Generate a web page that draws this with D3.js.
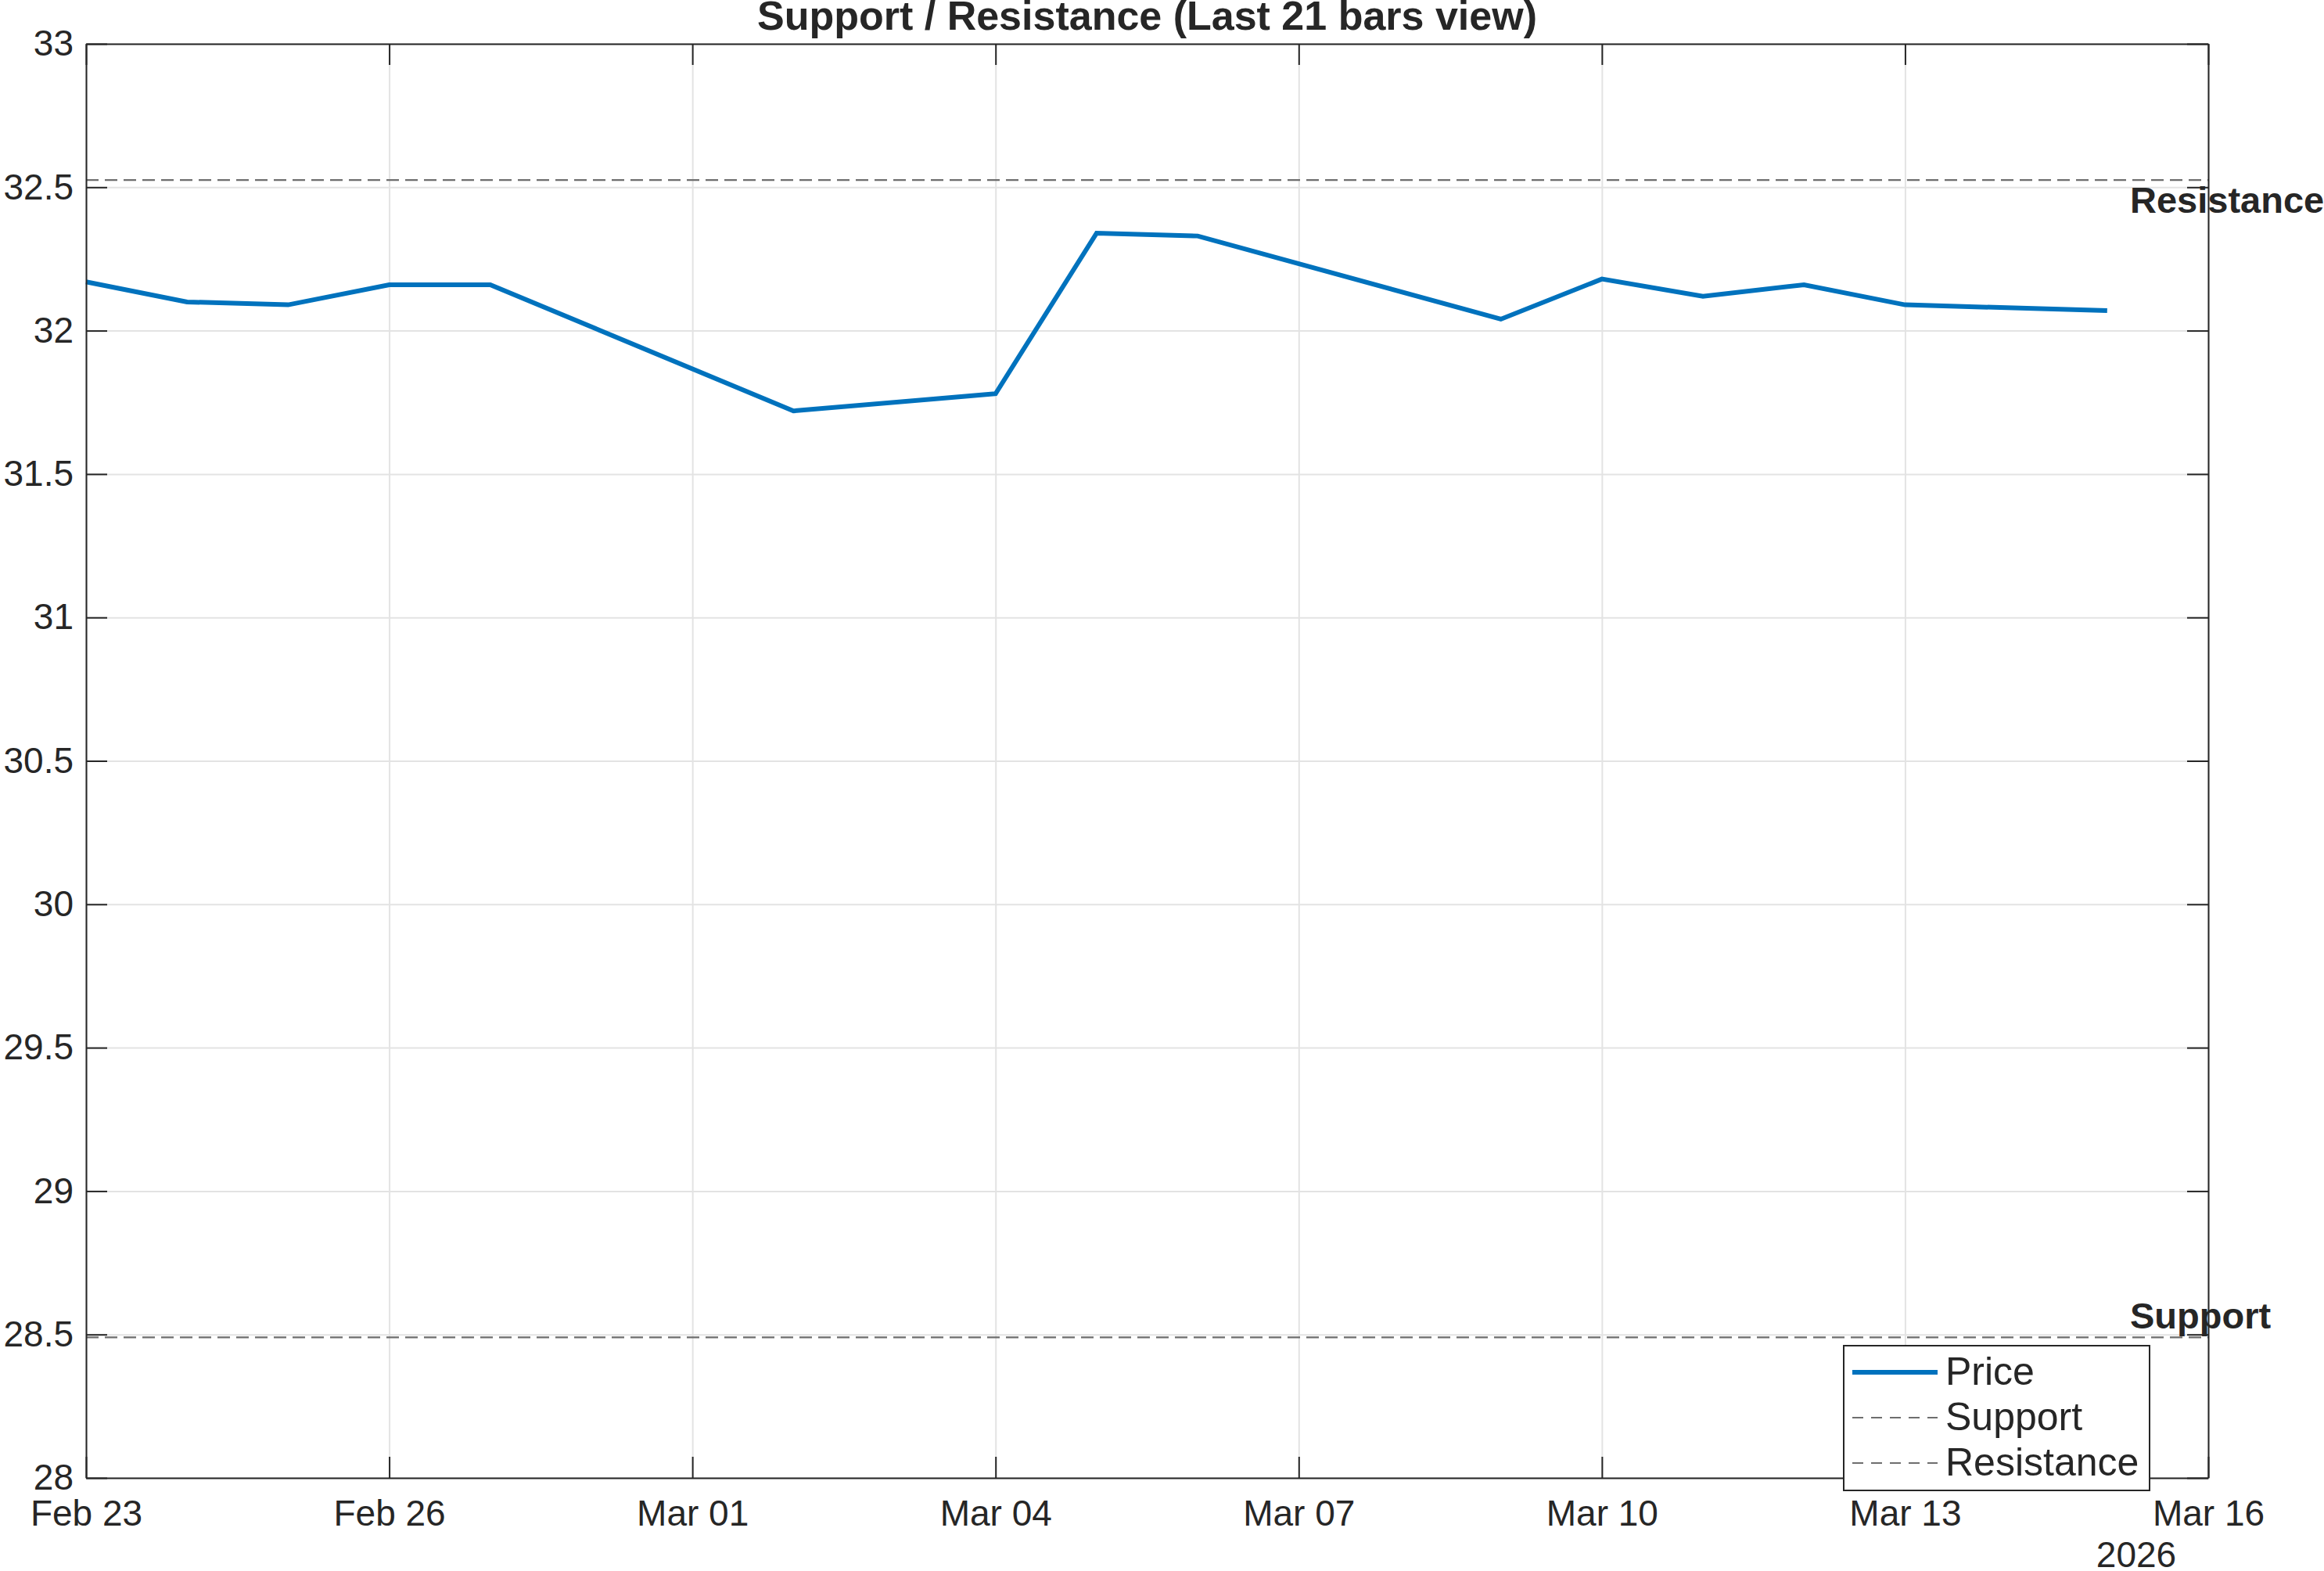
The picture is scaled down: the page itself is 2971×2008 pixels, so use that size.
<!DOCTYPE html>
<html>
<head>
<meta charset="utf-8">
<script src="https://cdn.jsdelivr.net/npm/d3@7"></script>
<style>
  html, body { margin: 0; padding: 0; background: #fff; }
  svg { display: block; }
</style>
</head>
<body>
<svg id="chart"></svg>
<script>
const dates = ['2026-02-23', '2026-02-24', '2026-02-25', '2026-02-26', '2026-02-27',
  '2026-03-02', '2026-03-04', '2026-03-05', '2026-03-06', '2026-03-09',
  '2026-03-10', '2026-03-11', '2026-03-12', '2026-03-13', '2026-03-15'];
const prices = [32.17, 32.10, 32.09, 32.16, 32.16,
  31.72, 31.78, 32.34, 32.33, 32.04,
  32.18, 32.12, 32.16, 32.09, 32.07];
const supportLevel = 28.49;
const resistanceLevel = 32.525;
const xTicks = ['2026-02-23', '2026-02-26', '2026-03-01', '2026-03-04', '2026-03-07',
  '2026-03-10', '2026-03-13', '2026-03-16'];
const yTicks = [28, 28.5, 29, 29.5, 30, 30.5, 31, 31.5, 32, 32.5, 33];
const legendLabels = ['Price', 'Support', 'Resistance'];
const titleText = 'Support / Resistance (Last 21 bars view)';
const yearLabel = '2026';

const W = 2971;
const H = 2008;
const margin = { top: 56, right: 148, bottom: 119, left: 110 };
const innerW = W - margin.left - margin.right;
const innerH = H - margin.top - margin.bottom;
const FONT = '"Liberation Sans", Arial, Helvetica, sans-serif';
const INK = '#262626';
const BLUE = '#0072BD';
const DASH = '#6e6e6e';
const TICK = 27;

const parse = d3.utcParse('%Y-%m-%d');
const fmt = d3.utcFormat('%b %d');

const svg = d3.select('#chart').attr('width', W).attr('height', H)
  .style('font-family', FONT);

const x = d3.scaleUtc()
  .domain([parse(xTicks[0]), parse(xTicks[xTicks.length - 1])])
  .range([0, innerW]);
const y = d3.scaleLinear()
  .domain([28, 33])
  .range([innerH, 0]);

const g = svg.append('g').attr('transform', `translate(${margin.left},${margin.top})`);

// grid
g.append('g')
  .call(d3.axisBottom(x).tickValues(xTicks.map(parse)).tickSize(innerH).tickFormat(''))
  .call(a => a.select('.domain').remove())
  .call(a => a.selectAll('line').attr('stroke', '#e3e3e3').attr('stroke-width', 2));
g.append('g')
  .call(d3.axisLeft(y).tickValues(yTicks).tickSize(-innerW).tickFormat(''))
  .call(a => a.select('.domain').remove())
  .call(a => a.selectAll('line').attr('stroke', '#e3e3e3').attr('stroke-width', 2));

// support / resistance levels
[supportLevel, resistanceLevel].forEach(v => {
  g.append('line')
    .attr('x1', 0).attr('x2', innerW)
    .attr('y1', y(v)).attr('y2', y(v))
    .attr('stroke', DASH).attr('stroke-width', 2.2)
    .attr('stroke-dasharray', '16 8');
});

// price line
const series = dates.map((d, i) => ({ date: parse(d), value: prices[i] }));
g.append('path')
  .datum(series)
  .attr('fill', 'none')
  .attr('stroke', BLUE)
  .attr('stroke-width', 6)
  .attr('stroke-linejoin', 'miter')
  .attr('d', d3.line().x(d => x(d.date)).y(d => y(d.value)));

// axes with inward ticks on all sides
const styleAxis = a => {
  a.select('.domain').attr('stroke', INK).attr('stroke-width', 2);
  a.selectAll('line').attr('stroke', INK).attr('stroke-width', 2);
  a.selectAll('text').attr('fill', INK).attr('font-size', 46).attr('font-family', FONT);
};

g.append('g')
  .attr('transform', `translate(0,${innerH})`)
  .call(d3.axisBottom(x).tickValues(xTicks.map(parse)).tickSizeInner(-TICK).tickSizeOuter(0)
    .tickPadding(28).tickFormat(fmt))
  .call(styleAxis);
g.append('g')
  .call(d3.axisTop(x).tickValues(xTicks.map(parse)).tickSizeInner(-TICK).tickSizeOuter(0).tickFormat(''))
  .call(styleAxis);
g.append('g')
  .call(d3.axisLeft(y).tickValues(yTicks).tickSizeInner(-TICK).tickSizeOuter(0)
    .tickPadding(16).tickFormat(d3.format('')))
  .call(styleAxis);
g.append('g')
  .attr('transform', `translate(${innerW},0)`)
  .call(d3.axisRight(y).tickValues(yTicks).tickSizeInner(-TICK).tickSizeOuter(0).tickFormat(''))
  .call(styleAxis);

g.append('text')
  .attr('x', x(parse(xTicks[xTicks.length - 1])) - 92)
  .attr('y', innerH + 114)
  .attr('text-anchor', 'middle')
  .attr('fill', INK)
  .attr('font-size', 46)
  .text(yearLabel);

// level labels
g.append('text')
  .attr('x', innerW - 100)
  .attr('y', y(resistanceLevel) + 42)
  .attr('fill', INK)
  .attr('font-size', 47)
  .attr('font-weight', 'bold')
  .text('Resistance');
g.append('text')
  .attr('x', innerW - 100)
  .attr('y', y(supportLevel) - 11)
  .attr('fill', INK)
  .attr('font-size', 47)
  .attr('font-weight', 'bold')
  .text('Support');

// title
svg.append('text')
  .attr('x', margin.left + innerW / 2)
  .attr('y', 38)
  .attr('text-anchor', 'middle')
  .attr('fill', INK)
  .attr('font-size', 52)
  .attr('font-weight', 'bold')
  .text(titleText);

// legend
const legend = svg.append('g').attr('transform', `translate(2357,1720)`);
legend.append('rect')
  .attr('width', 391).attr('height', 185)
  .attr('fill', '#fff').attr('stroke', INK).attr('stroke-width', 2);
legendLabels.forEach((label, i) => {
  const row = legend.append('g').attr('transform', `translate(0,${34 + i * 58})`);
  row.append('line')
    .attr('x1', 11).attr('x2', 120)
    .attr('stroke', i === 0 ? BLUE : DASH)
    .attr('stroke-width', i === 0 ? 6 : 2.2)
    .attr('stroke-dasharray', i === 0 ? null : '14 10');
  row.append('text')
    .attr('x', 130).attr('y', 16)
    .attr('fill', INK).attr('font-size', 50)
    .text(label);
});
</script>
</body>
</html>
